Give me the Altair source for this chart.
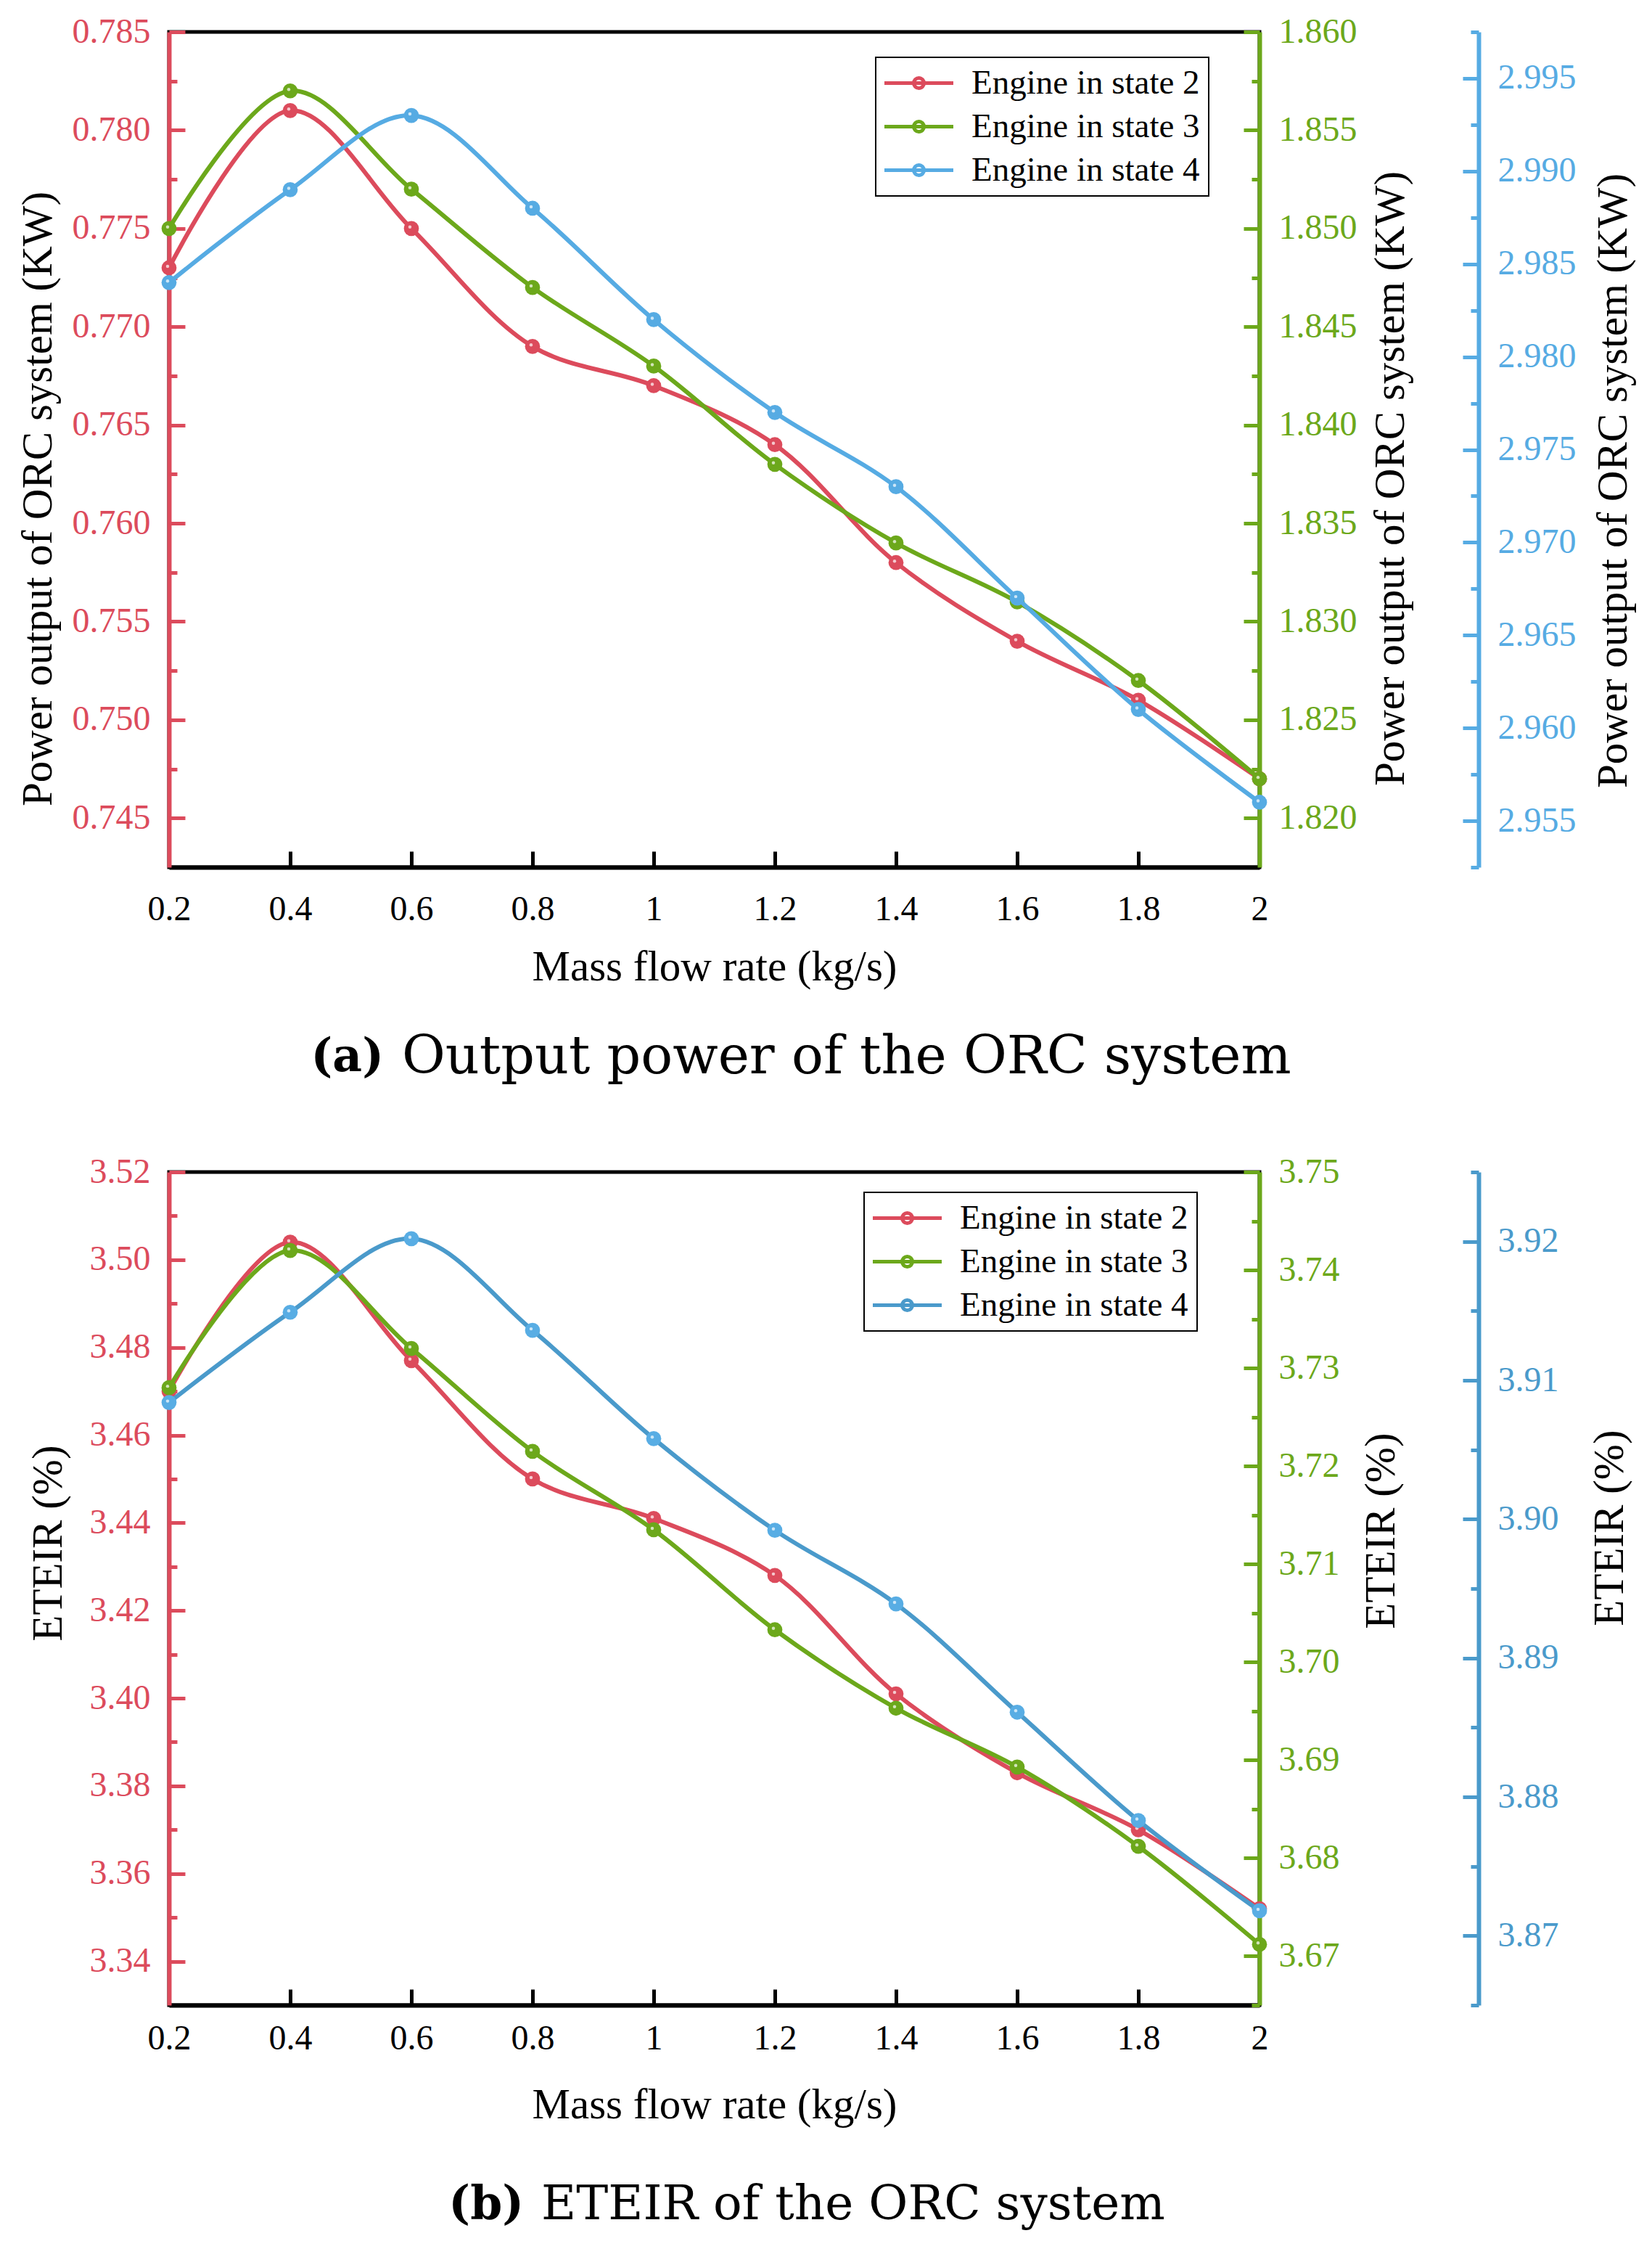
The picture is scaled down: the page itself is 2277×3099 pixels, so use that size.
import altair as alt
import pandas as pd

# ---------------- data ----------------
mass_flow = [0.2, 0.4, 0.6, 0.8, 1.0, 1.2, 1.4, 1.6, 1.8, 2.0]
series_names = ["Engine in state 2", "Engine in state 3", "Engine in state 4"]

power_state2 = [0.773, 0.781, 0.775, 0.769, 0.767, 0.764, 0.758, 0.754, 0.751, 0.747]
power_state3 = [1.850, 1.857, 1.852, 1.847, 1.843, 1.838, 1.834, 1.831, 1.827, 1.822]
power_state4 = [2.984, 2.989, 2.993, 2.988, 2.982, 2.977, 2.973, 2.967, 2.961, 2.956]

eteir_state2 = [3.470, 3.504, 3.477, 3.450, 3.441, 3.428, 3.401, 3.383, 3.370, 3.352]
eteir_state3 = [3.728, 3.742, 3.732, 3.7215, 3.7135, 3.7033, 3.6953, 3.6893, 3.6812, 3.6712]
eteir_state4 = [3.9084, 3.9149, 3.9202, 3.9136, 3.9058, 3.8992, 3.8939, 3.8861, 3.8783, 3.8718]

x_domain = [0.2, 2.0]
x_ticks = [0.2, 0.4, 0.6, 0.8, 1.0, 1.2, 1.4, 1.6, 1.8, 2.0]

power_domain_state2 = [0.7425, 0.785]
power_ticks_state2 = [0.745, 0.750, 0.755, 0.760, 0.765, 0.770, 0.775, 0.780, 0.785]
power_minor_state2 = [0.7475, 0.7525, 0.7575, 0.7625, 0.7675, 0.7725, 0.7775, 0.7825]
power_domain_state3 = [1.8175, 1.860]
power_ticks_state3 = [1.820, 1.825, 1.830, 1.835, 1.840, 1.845, 1.850, 1.855, 1.860]
power_minor_state3 = [1.8225, 1.8275, 1.8325, 1.8375, 1.8425, 1.8475, 1.8525, 1.8575]
power_domain_state4 = [2.9525, 2.9975]
power_ticks_state4 = [2.955, 2.960, 2.965, 2.970, 2.975, 2.980, 2.985, 2.990, 2.995]
power_minor_state4 = [2.9525, 2.9575, 2.9625, 2.9675, 2.9725, 2.9775, 2.9825, 2.9875, 2.9925, 2.9975]

eteir_domain_state2 = [3.33, 3.52]
eteir_ticks_state2 = [3.34, 3.36, 3.38, 3.40, 3.42, 3.44, 3.46, 3.48, 3.50, 3.52]
eteir_minor_state2 = [3.35, 3.37, 3.39, 3.41, 3.43, 3.45, 3.47, 3.49, 3.51]
eteir_domain_state3 = [3.665, 3.75]
eteir_ticks_state3 = [3.67, 3.68, 3.69, 3.70, 3.71, 3.72, 3.73, 3.74, 3.75]
eteir_minor_state3 = [3.665, 3.675, 3.685, 3.695, 3.705, 3.715, 3.725, 3.735, 3.745]
eteir_domain_state4 = [3.865, 3.925]
eteir_ticks_state4 = [3.87, 3.88, 3.89, 3.90, 3.91, 3.92]
eteir_minor_state4 = [3.865, 3.875, 3.885, 3.895, 3.905, 3.915, 3.925]

x_title = "Mass flow rate (kg/s)"
power_title = "Power output of ORC system (KW)"
eteir_title = "ETEIR (%)"
caption_a = ["(a)", "Output power of the ORC system"]
caption_b = ["(b)", "ETEIR of the ORC system"]

# ---------------- style ----------------
W = 1503
H_A = 1151
H_B = 1148
BLUE_OFFSET = 302
FONT = "Liberation Serif"
CAPTION_FONT = "DejaVu Serif"
RED = "#DC4B5C"
GREEN = "#6CA81B"
BLUE_A = "#56ABE3"
BLUE_B_LINE = "#4A9ACB"
BLUE_B_POINT = "#58ADE4"
TICK_FONT_SIZE = 48
# legend symbol: a line 95 px long with a dot in its middle (unit = 20 px)
LEGEND_SYMBOL = "M-1.175,0H3.575M0.85,0A0.35,0.35,0,1,1,1.55,0A0.35,0.35,0,1,1,0.85,0Z"


def make_df(values, name):
    return pd.DataFrame({"x": mass_flow, "y": values, "series": name})


def label_axis(orient, offset, color, values, fmt, title, tx, ty):
    return alt.Axis(
        orient=orient, offset=offset, values=values, format=fmt,
        domain=True, domainColor=color, domainWidth=6,
        ticks=False, tickSize=0,
        labels=True, labelColor=color, labelFont=FONT, labelFontSize=TICK_FONT_SIZE,
        labelPadding=26, labelFlush=False, labelOverlap=False, grid=False,
        title=title, titleFont=FONT, titleFontSize=59, titleFontWeight="normal",
        titleColor="black", titleAngle=270, titleAlign="center",
        titleBaseline="middle", titleX=tx, titleY=ty,
    )


def tick_axis(orient, offset, color, values, size):
    return alt.Axis(
        orient=orient, offset=offset, values=values, domain=False, ticks=True,
        tickSize=size, tickWidth=5, tickColor=color, labels=False, grid=False,
        title=None,
    )


def x_main_axis(label_pad):
    return alt.Axis(
        orient="bottom", values=x_ticks, labelExpr="format(datum.value, '~g')",
        domain=True, domainColor="black", domainWidth=6, ticks=False, tickSize=0,
        labelFont=FONT, labelFontSize=TICK_FONT_SIZE, labelColor="black", labelPadding=label_pad,
        labelBaseline="middle", labelFlush=False, labelOverlap=False, grid=False,
        title=x_title, titleFont=FONT, titleFontSize=59, titleFontWeight="normal",
        titleColor="black", titleY=137, titleBaseline="middle",
    )


def x_tick_axis(h):
    return alt.Axis(
        orient="top", offset=-h, values=x_ticks, domain=False, ticks=True,
        tickSize=22, tickWidth=5, tickColor="black", labels=False, grid=False,
        title=None,
    )


def series_group(df, color_scale, point_color, y_domain, y_lab, y_maj, y_min,
                 x_lab=None, x_tck=None, legend=None):
    xs = alt.Scale(domain=x_domain, nice=False, zero=False)
    ys = alt.Scale(domain=y_domain, nice=False, zero=False)
    ckw = dict(scale=color_scale)
    if legend is not None:
        ckw["legend"] = legend
    line = alt.Chart(df).mark_line(interpolate="catmull-rom", strokeWidth=6).encode(
        x=alt.X("x:Q", scale=xs, axis=x_lab),
        y=alt.Y("y:Q", scale=ys, axis=y_lab),
        color=alt.Color("series:N", **ckw),
    )
    pts = alt.Chart(df).mark_point(filled=True, size=430, opacity=1, color=point_color).encode(
        x=alt.X("x:Q", scale=xs, axis=x_tck),
        y=alt.Y("y:Q", scale=ys, axis=y_maj),
    )
    hl = alt.Chart(df).mark_point(filled=True, size=20, opacity=0.7, color="white",
                                  xOffset=-2, yOffset=-2).encode(
        x=alt.X("x:Q", scale=xs, axis=None),
        y=alt.Y("y:Q", scale=ys, axis=y_min),
    )
    return alt.layer(line, pts, hl).resolve_axis(x="independent", y="independent")


def caption_layers(parts, y, x_right, x_left, size_rest):
    a = alt.Chart(pd.DataFrame({"label": [parts[0]]})).mark_text(
        font=CAPTION_FONT, fontSize=63, fontWeight="bold", align="right",
        baseline="middle", color="black",
    ).encode(text="label:N", x=alt.value(x_right), y=alt.value(y))
    b = alt.Chart(pd.DataFrame({"label": [parts[1]]})).mark_text(
        font=CAPTION_FONT, fontSize=size_rest, fontWeight="normal", align="left",
        baseline="middle", color="black",
    ).encode(text="label:N", x=alt.value(x_left), y=alt.value(y))
    return [a, b]


def make_legend(lx, ly):
    return alt.Legend(
        title=None, orient="none", legendX=lx, legendY=ly,
        symbolType=LEGEND_SYMBOL, symbolSize=1600, symbolStrokeWidth=5,
        labelFont=FONT, labelFontSize=47, labelColor="black", labelOffset=73,
        labelLimit=0, rowPadding=12, padding=12, strokeColor="black",
        fillColor="white",
    )


# ---------------- panel (a) ----------------
cs_a = alt.Scale(domain=series_names, range=[RED, GREEN, BLUE_A])
ga_red = series_group(
    make_df(power_state2, series_names[0]), cs_a, RED, power_domain_state2,
    label_axis("left", 0, RED, power_ticks_state2, ".3f", power_title, -181, 643),
    tick_axis("right", -W, RED, power_ticks_state2, 22),
    tick_axis("right", -W, RED, power_minor_state2, 11),
    x_lab=x_main_axis(58), x_tck=x_tick_axis(H_A), legend=make_legend(974, 35),
)
ga_green = series_group(
    make_df(power_state3, series_names[1]), cs_a, GREEN, power_domain_state3,
    label_axis("right", 0, GREEN, power_ticks_state3, ".3f", power_title, 180, 615),
    tick_axis("left", -W, GREEN, power_ticks_state3, 22),
    tick_axis("left", -W, GREEN, power_minor_state3, 11),
)
ga_blue = series_group(
    make_df(power_state4, series_names[2]), cs_a, BLUE_A, power_domain_state4,
    label_axis("right", BLUE_OFFSET, BLUE_A, power_ticks_state4, ".3f", power_title, 185, 618),
    tick_axis("left", -(W + BLUE_OFFSET), BLUE_A, power_ticks_state4, 22),
    tick_axis("left", -(W + BLUE_OFFSET), BLUE_A, power_minor_state4, 11),
)
panel_a = alt.layer(
    ga_red, ga_green, ga_blue, *caption_layers(caption_a, 1413, 296, 321, 73)
).resolve_scale(y="independent").resolve_axis(x="independent", y="independent").properties(
    width=W, height=H_A
)

# ---------------- panel (b) ----------------
cs_b = alt.Scale(domain=series_names, range=[RED, GREEN, BLUE_B_LINE])
gb_red = series_group(
    make_df(eteir_state2, series_names[0]), cs_b, RED, eteir_domain_state2,
    label_axis("left", 0, RED, eteir_ticks_state2, ".2f", eteir_title, -167, 511),
    tick_axis("right", -W, RED, eteir_ticks_state2, 22),
    tick_axis("right", -W, RED, eteir_minor_state2, 11),
    x_lab=x_main_axis(46), x_tck=x_tick_axis(H_B), legend=make_legend(958, 28),
)
gb_green = series_group(
    make_df(eteir_state3, series_names[1]), cs_b, GREEN, eteir_domain_state3,
    label_axis("right", 0, GREEN, eteir_ticks_state3, ".2f", eteir_title, 167, 494),
    tick_axis("left", -W, GREEN, eteir_ticks_state3, 22),
    tick_axis("left", -W, GREEN, eteir_minor_state3, 11),
)
gb_blue = series_group(
    make_df(eteir_state4, series_names[2]), cs_b, BLUE_B_POINT, eteir_domain_state4,
    label_axis("right", BLUE_OFFSET, BLUE_B_LINE, eteir_ticks_state4, ".2f", eteir_title, 180, 490),
    tick_axis("left", -(W + BLUE_OFFSET), BLUE_B_LINE, eteir_ticks_state4, 22),
    tick_axis("left", -(W + BLUE_OFFSET), BLUE_B_LINE, eteir_minor_state4, 11),
)
panel_b = alt.layer(
    gb_red, gb_green, gb_blue, *caption_layers(caption_b, 1423, 489, 513, 66)
).resolve_scale(y="independent").resolve_axis(x="independent", y="independent").properties(
    width=W, height=H_B
)

chart = (
    alt.vconcat(panel_a, panel_b, spacing=420, bounds="flush")
    .resolve_scale(color="independent")
    .resolve_legend(color="independent")
    .properties(padding={"left": 20, "top": 17, "right": 5, "bottom": 5}, background="white")
    .configure_view(stroke="black", strokeWidth=5)
    .configure_legend(strokeWidth=2)
)

chart.save("out.html", embed_options={"renderer": "svg", "actions": False})
